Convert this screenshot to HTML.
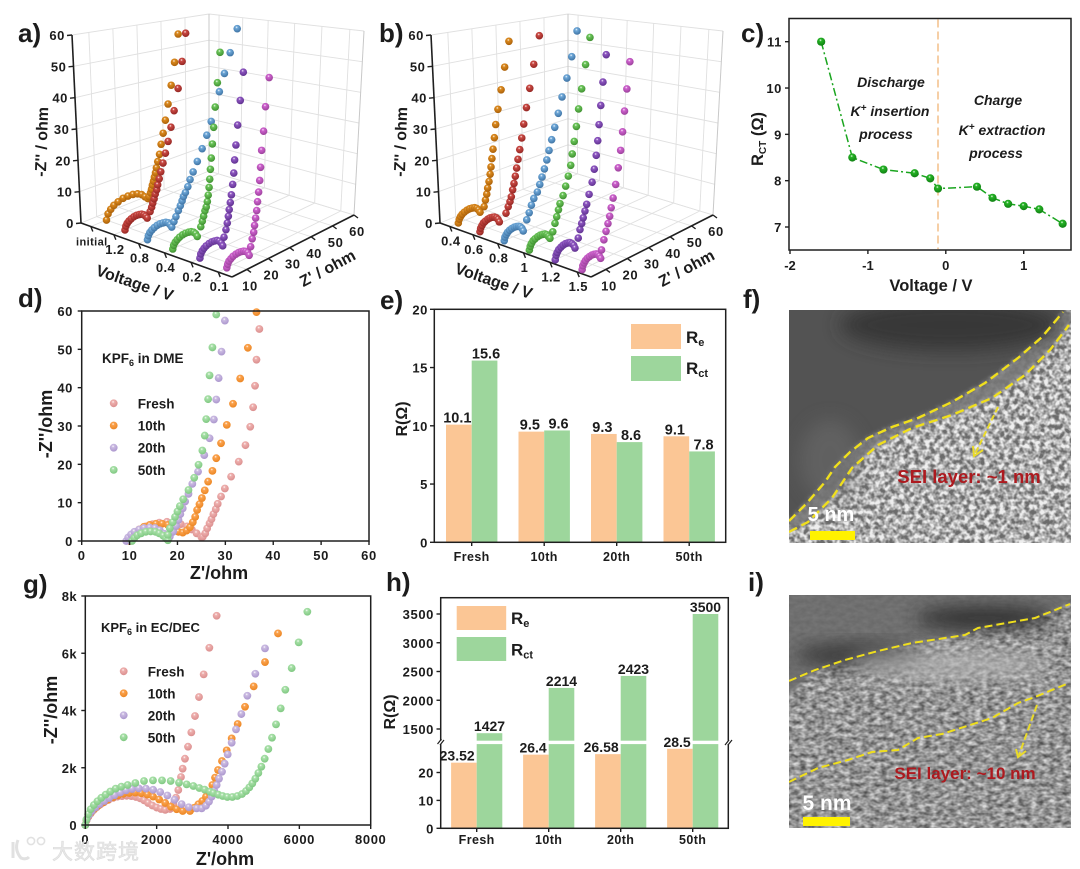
<!DOCTYPE html>
<html lang="en">
<head>
<meta charset="utf-8">
<title>EIS and SEI characterization figure</title>
<style>
html,body{margin:0;padding:0;background:#fff;}
svg{display:block;font-family:"Liberation Sans","Noto Sans CJK SC",sans-serif;}
text{fill:#1c1c1c;font-weight:bold;}
.plabel{font-size:26px;}
.title{font-size:17px;}
.note{font-size:14px;font-style:italic;text-anchor:middle;}
</style>
</head>
<body>
<svg id="chart" width="1080" height="869" viewBox="0 0 1080 869">
<defs>
  <filter id="noiseF" x="0" y="0" width="1" height="1" color-interpolation-filters="sRGB">
    <feTurbulence type="fractalNoise" baseFrequency="0.2" numOctaves="2" seed="7"/>
    <feColorMatrix type="matrix" values="2.6 0 0 0 -0.8  2.6 0 0 0 -0.8  2.6 0 0 0 -0.8  0 0 0 0 1"/>
  </filter>
  <filter id="noiseI" x="0" y="0" width="1" height="1" color-interpolation-filters="sRGB">
    <feTurbulence type="fractalNoise" baseFrequency="0.16 0.24" numOctaves="2" seed="11"/>
    <feColorMatrix type="matrix" values="1.5 0 0 0 -0.25  1.5 0 0 0 -0.25  1.5 0 0 0 -0.25  0 0 0 0 1"/>
  </filter>
  <filter id="soft" x="-20%" y="-20%" width="140%" height="140%"><feGaussianBlur stdDeviation="2.5"/></filter>
  <filter id="softer" x="-40%" y="-40%" width="180%" height="180%"><feGaussianBlur stdDeviation="9"/></filter>
  <clipPath id="clipF"><rect x="789" y="310" width="282" height="233"/></clipPath>
  <clipPath id="clipI"><rect x="789" y="595" width="282" height="233"/></clipPath>
</defs>
<rect width="1080" height="869" fill="#fff"/>

<g id="pa"></g>
<g id="pb"></g>
<g id="pc"></g>
<g id="pd"></g>
<g id="pe"></g>
<g id="pg"></g>
<g id="ph"></g>

<text class="plabel" x="18" y="42">a)</text>
<text class="plabel" x="379" y="42">b)</text>
<text class="plabel" x="741" y="42">c)</text>
<text class="plabel" x="18" y="307">d)</text>
<text class="plabel" x="380" y="309">e)</text>
<text class="plabel" x="743" y="308">f)</text>
<text class="plabel" x="23" y="593">g)</text>
<text class="plabel" x="386" y="591">h)</text>
<text class="plabel" x="748" y="591">i)</text>

<!-- 3D panel titles -->
<text class="title" style="font-size:16px" text-anchor="middle" transform="translate(47,142) rotate(-88)">-Z'' / ohm</text>
<text class="title" style="font-size:16px" text-anchor="middle" transform="translate(133,288) rotate(19)">Voltage / V</text>
<text class="title" style="font-size:16px" text-anchor="middle" transform="translate(330,273) rotate(-28)">Z' / ohm</text>
<text class="title" style="font-size:16px" text-anchor="middle" transform="translate(406,142) rotate(-88)">-Z'' / ohm</text>
<text class="title" style="font-size:16px" text-anchor="middle" transform="translate(492,286) rotate(19)">Voltage / V</text>
<text class="title" style="font-size:16px" text-anchor="middle" transform="translate(689,273) rotate(-28)">Z' / ohm</text>

<!-- panel c text -->
<text class="title" x="931" y="291" text-anchor="middle" style="font-size:16.5px">Voltage / V</text>
<text class="title" text-anchor="middle" style="font-size:16.5px" transform="translate(763,139) rotate(-90)">R<tspan dy="3" font-size="10">CT</tspan><tspan dy="-3"> (Ω)</tspan></text>
<text class="note" x="891" y="87">Discharge</text>
<text class="note" x="890" y="116">K<tspan dy="-5" font-size="10">+</tspan><tspan dy="5"> insertion</tspan></text>
<text class="note" x="886" y="139">process</text>
<text class="note" x="998" y="105">Charge</text>
<text class="note" x="1002" y="135">K<tspan dy="-5" font-size="10">+</tspan><tspan dy="5"> extraction</tspan></text>
<text class="note" x="996" y="158">process</text>

<!-- panel d text -->
<text class="title" x="219" y="579" text-anchor="middle" style="font-size:18px">Z'/ohm</text>
<text class="title" text-anchor="middle" style="font-size:18px" transform="translate(52,424) rotate(-90)">-Z''/ohm</text>
<text x="102" y="363" font-size="13.5">KPF<tspan dy="3" font-size="9">6</tspan><tspan dy="-3"> in DME</tspan></text>

<!-- panel e text -->
<text class="title" text-anchor="middle" style="font-size:16px" transform="translate(407,419) rotate(-90)">R(Ω)</text>
<rect x="631" y="324" width="50" height="25" fill="#fbc695"/>
<rect x="631" y="356" width="50" height="25" fill="#9dd69c"/>
<text x="686" y="343" font-size="17">R<tspan dy="3" font-size="11">e</tspan></text>
<text x="686" y="374" font-size="17">R<tspan dy="3" font-size="11">ct</tspan></text>

<!-- panel f TEM image -->
<g clip-path="url(#clipF)">
  <rect x="789" y="310" width="282" height="233" fill="#adadad"/>
  <rect x="789" y="310" width="282" height="233" filter="url(#noiseF)" opacity="0.8" style="mix-blend-mode:overlay"/>
  <polygon filter="url(#soft)" points="789,521 807,503 825,482 835,467 850,452 868,438 892,427 918,418 952,402 985,383 1018,358 1042,337 1063,312 1080,312 1069,325 1050,350 1025,375 992,398 952,415 912,428 878,445 852,468 832,498 808,522 789,532" fill="#777" opacity="0.9"/>
  <polygon filter="url(#soft)" points="770,300 1080,300 1063,312 1042,337 1018,358 985,383 952,402 918,418 892,427 868,438 850,452 835,467 825,482 807,503 789,521 770,540" fill="#535353"/>
  <ellipse filter="url(#softer)" cx="950" cy="325" rx="110" ry="26" fill="#353535" opacity="0.9"/>
  <ellipse filter="url(#softer)" cx="830" cy="460" rx="30" ry="40" fill="#6a6a6a" opacity="0.6"/>
  <polyline points="789,521 807,503 825,482 835,467 850,452 868,438 892,427 918,418 952,402 985,383 1018,358 1042,337 1063,312" fill="none" stroke="#f0df1c" stroke-width="2.4" stroke-dasharray="9 5"/>
  <polyline points="789,532 808,522 832,498 852,468 878,445 912,428 952,415 992,398 1025,375 1050,350 1069,325" fill="none" stroke="#f0df1c" stroke-width="2.4" stroke-dasharray="9 5"/>
  <line x1="998" y1="407" x2="975" y2="454" stroke="#eadb2a" stroke-width="2" stroke-dasharray="6 3"/>
  <polyline points="973,446 974,456 983,450" fill="none" stroke="#eadb2a" stroke-width="2"/>
  <text x="969" y="483" text-anchor="middle" font-size="18.5" style="fill:#ad1a1f">SEI layer: ~1 nm</text>
  <text x="831" y="521" text-anchor="middle" font-size="20" style="fill:#fff">5 nm</text>
  <rect x="810" y="531" width="45" height="9" fill="#fff200"/>
</g>

<!-- panel g text -->
<text class="title" x="225" y="865" text-anchor="middle" style="font-size:18px">Z'/ohm</text>
<text class="title" text-anchor="middle" style="font-size:18px" transform="translate(57,710) rotate(-90)">-Z''/ohm</text>
<text x="101" y="632" font-size="13">KPF<tspan dy="3" font-size="9">6</tspan><tspan dy="-3"> in EC/DEC</tspan></text>

<!-- panel h text -->
<text class="title" text-anchor="middle" style="font-size:16px" transform="translate(395,712) rotate(-90)">R(Ω)</text>

<!-- panel i TEM image -->
<g clip-path="url(#clipI)">
  <rect x="789" y="595" width="282" height="233" fill="#959595"/>
  <rect x="789" y="595" width="282" height="233" filter="url(#noiseI)" opacity="0.65" style="mix-blend-mode:overlay"/>
  <polygon filter="url(#soft)" points="780,590 1080,590 1070,604 1035,618 978,628 965,635 912,643 878,651 845,660 815,670 789,695 780,700" fill="#6c6c6c" opacity="0.9"/>
  <ellipse filter="url(#softer)" cx="985" cy="618" rx="70" ry="12" fill="#333"/>
  <ellipse filter="url(#softer)" cx="860" cy="655" rx="65" ry="12" fill="#3a3a3a"/>
  <ellipse filter="url(#softer)" cx="950" cy="665" rx="100" ry="16" fill="#b4b4b4" opacity="0.7"/>
  <polyline points="789,681 815,670 845,660 878,651 912,643 965,635 978,628 1035,618 1070,604" fill="none" stroke="#f0df1c" stroke-width="2" stroke-dasharray="8 4"/>
  <polyline points="789,782 818,768 848,760 872,752 898,750 918,738 942,734 992,718 1018,703 1035,697 1069,683" fill="none" stroke="#f0df1c" stroke-width="2" stroke-dasharray="8 4"/>
  <line x1="1037" y1="705" x2="1019" y2="755" stroke="#eadb2a" stroke-width="2" stroke-dasharray="7 3"/>
  <polyline points="1016,749 1018,757 1026,751" fill="none" stroke="#eadb2a" stroke-width="2"/>
  <text x="965" y="779" text-anchor="middle" font-size="17" style="fill:#ad1a1f">SEI layer: ~10 nm</text>
  <text x="827" y="810" text-anchor="middle" font-size="21" style="fill:#fff">5 nm</text>
  <rect x="803" y="817" width="47" height="9" fill="#fff200"/>
</g>

<!-- watermark -->
<g opacity="0.9">
  <path d="M13 842 L13 858 M18 840 Q14 850 21 858 Q26 860 29 857" fill="none" stroke="#dedede" stroke-width="3"/>
  <circle cx="31" cy="841" r="3.6" fill="none" stroke="#dedede" stroke-width="1.6"/>
  <circle cx="41" cy="841" r="3.6" fill="none" stroke="#dedede" stroke-width="1.6"/>
  <text x="52" y="859" font-size="21" letter-spacing="1" stroke="#d8d8d8" stroke-width="0.6" style="fill:#e6e6e6;font-weight:normal">大数跨境</text>
</g>

<script>
/* ---------- Panel a data: [Z', -Z''] ---------- */
const voltageLabelsA = ['initial','1.2','0.8','0.4','0.2','0.1'];
const aInitial = [[10,0],[10.7,1.8],[11.9,2.9],[13.3,3.8],[15.2,4.4],[17.4,4.9],[19.6,5],[21.8,4.9],[23.9,4.5],[25.7,3.7],[27.2,2.5],[28.5,1.5],[29,2],[29.7,3.1],[30.1,4.2],[30.5,5.5],[31,6.7],[31.4,8],[31.9,9.3],[32.3,10.9],[32.9,12.9],[33.7,15.2],[34.4,18.5],[35.3,22.1],[36.3,26.4],[37.5,31.8],[38.9,38.1],[40.4,45.9],[42,55.7]];
const aV12 = [[8,0],[8.4,1.1],[9,1.8],[9.8,2.3],[10.8,2.7],[12,3],[13.2,3.1],[14.4,3],[15.5,2.8],[16.5,2.3],[17.3,1.6],[18,0.8],[19.3,2.5],[20,3.7],[20.5,4.9],[21.1,6.1],[21.6,7.5],[22.3,8.7],[22.7,10.2],[23.4,12],[24.1,14.1],[25.1,16.7],[26.2,19.7],[27.4,23.3],[28.7,27.7],[30.1,32.9],[31.9,40],[33.7,48.8],[35.3,58.1]];
const aV08 = [[7,0],[7.4,1.1],[8.1,1.9],[9,2.4],[10.1,2.8],[11.4,3.1],[12.7,3.2],[14,3.1],[15.3,2.9],[16.4,2.4],[17.2,1.6],[18,0.6],[19,2],[19.9,3.3],[21,4.9],[21.9,6.2],[22.7,7.5],[23.3,8.7],[24.2,9.7],[25.3,11.3],[26.3,13.3],[27.7,15.4],[29.6,18.3],[31.8,21.9],[33.9,25.8],[35.9,29.9],[39.6,39],[41.9,44.7],[44.5,51.3],[47.7,59]];
const aV04 = [[6.8,0],[7.2,1],[7.9,1.7],[8.8,2.2],[9.9,2.6],[11.3,2.9],[12.6,3],[14,2.9],[15.2,2.7],[16.3,2.2],[17.2,1.5],[18,0.4],[19.6,2.9],[20.3,4.4],[20.9,5.8],[21.5,7.3],[22.1,8.3],[22.6,9.8],[23,11.7],[23.4,14],[23.7,16.5],[24,19.5],[24.4,22.9],[24.9,27.2],[25.5,32.3],[26.2,38.5],[27.2,46],[28.4,55.4]];
const aV02 = [[7.1,0],[7.5,1.1],[8.2,1.8],[9,2.3],[10,2.7],[11.3,3],[12.6,3.1],[13.8,3],[15,2.8],[16,2.3],[16.9,1.5],[17.6,0.4],[18.2,2.8],[19.1,4.8],[19.7,6.6],[20.2,8.5],[20.6,10.4],[21.1,12.4],[21.6,14.6],[22.2,17.6],[22.7,20.9],[23.1,24.8],[23.7,29.2],[24.5,35.1],[25.7,42.4],[27.1,50.8]];
const aV01 = [[7,0],[7.4,0.9],[8,1.6],[8.9,2],[9.9,2.4],[11.2,2.6],[12.4,2.7],[13.7,2.6],[14.8,2.4],[15.8,2],[16.7,1.4],[17.4,0.4],[18.1,2.7],[18.8,4.8],[19.5,6.5],[19.9,8.4],[20.4,10.4],[20.9,12.5],[21.3,15],[21.8,17.7],[22.3,21],[22.7,24.8],[23.2,29.7],[24.1,35.2],[25,42.3],[26.7,50.7]];

/* ---------- Panel b data ---------- */
const voltageLabelsB = ['0.4','0.6','0.8','1','1.2','1.5'];
const bV04 = [[6.8,0],[7.2,1.1],[7.8,1.8],[8.5,2.3],[9.5,2.7],[10.7,3],[11.8,3.1],[13,3],[14.1,2.8],[15,2.3],[15.8,1.6],[16.5,0.6],[18.3,1.9],[18.9,3.9],[19.5,5.7],[19.9,7.6],[20.5,9.6],[21,11.9],[21.4,14.2],[21.8,16.9],[22.3,19.9],[22.9,23.6],[23.5,27.9],[24.5,32.8],[25.9,39.1],[27.5,46.5],[29.4,55]];
const bV06 = [[6.2,0],[6.5,1],[7.1,1.7],[7.8,2.3],[8.6,2.6],[9.7,2.9],[10.7,3],[11.8,2.9],[12.7,2.7],[13.6,2.2],[14.3,1.5],[14.9,0.5],[17.9,2.4],[18.9,4.2],[19.7,5.6],[20.3,7],[20.9,9.1],[21.5,11],[22.1,13.2],[22.7,15.7],[23.3,18.4],[24.1,21.4],[25,25],[25.9,29.4],[27.1,34.6],[28.6,40.7],[30.4,48.4],[32.9,57.6]];
const bV08 = [[6,0],[6.3,1],[6.9,1.6],[7.5,2.1],[8.4,2.5],[9.4,2.7],[10.5,2.8],[11.5,2.7],[12.5,2.5],[13.3,2.1],[14,1.4],[14.6,0.4],[16.2,3.4],[17.3,5.3],[18.3,7.4],[19.4,9.2],[21,10.8],[22.1,12.9],[23.1,15],[24.2,17.3],[25.3,19.9],[26.3,22.7],[27.5,25.9],[28.9,29.6],[30.5,33.8],[32.2,38.8],[34.4,44.6],[36.6,51.3],[39,59.5]];
const bV10 = [[5.7,0],[6.1,1],[6.6,1.7],[7.4,2.3],[8.3,2.6],[9.5,2.9],[10.6,3],[11.7,2.9],[12.8,2.7],[13.7,2.2],[14.4,1.5],[15.1,0.7],[16.4,2.3],[17.4,4.6],[18.2,6.4],[19,8.3],[19.7,10],[21.1,12.1],[22.3,14.7],[23.5,17.5],[24.6,20.6],[25.3,24],[26.2,27.7],[27.2,32.2],[28.2,37.5],[29.6,43.6],[31.4,51],[33.4,59.4]];
const bV12 = [[5.4,0],[5.8,1.2],[6.3,1.9],[7,2.5],[8,2.9],[9,3.2],[10.1,3.3],[11.2,3.2],[12.2,3],[13.1,2.4],[13.9,1.7],[14.5,0.7],[16,3.2],[16.8,5.5],[17.6,7.1],[18.3,8.6],[19.1,10.4],[19.9,12.2],[21,14.9],[22.4,18.2],[23.4,21.9],[24.3,25.9],[25,30.2],[25.6,35],[26.4,40.7],[27.4,47.7],[28.9,55.9]];
const bV15 = [[5.3,0],[5.6,1],[6.2,1.6],[6.8,2.1],[7.7,2.5],[8.7,2.7],[9.8,2.8],[10.8,2.7],[11.8,2.5],[12.6,2.1],[13.3,1.4],[13.9,0.6],[14.3,2.9],[15.4,5.5],[16.4,7.7],[17.3,9.7],[18.1,11.6],[18.8,13.9],[19.7,16.5],[20.9,20.2],[22.1,24.8],[23.2,29.7],[24.1,35],[25,41],[26.1,47.4],[27.5,55.3]];

const tickValues3dImag = [0,10,20,30,40,50,60];
const tickValues3dReal = [10,20,30,40,50,60];

/* ---------- Panel c data ---------- */
const cVoltage = [-1.6,-1.2,-0.8,-0.4,-0.2,-0.1,0.4,0.6,0.8,1,1.2,1.5];
const cResistance = [11,8.5,8.24,8.16,8.05,7.83,7.87,7.63,7.5,7.45,7.38,7.07];
const cDividerVoltage = [-0.1];
const cXTicks = [-2,-1,0,1];
const cYTicks = [7,8,9,10,11];

/* ---------- Panel d data ---------- */
const dTicks = [0,10,20,30,40,50,60];
const dCycles = ['Fresh','10th','20th','50th'];
const dFresh = [[10,0],[10.5,1],[11.2,2],[12.2,3],[13.4,3.8],[14.8,4.4],[16.2,4.8],[17.8,5],[19.3,4.9],[20.7,4.4],[22,3.8],[23,3],[24,2],[25,1],[25.3,1.1],[25.8,2],[26.2,3.3],[26.7,4.6],[27.1,5.7],[27.5,7],[28,8.3],[28.4,9.7],[29.1,11.6],[29.9,13.7],[31.2,16.8],[32.8,20.7],[34.2,25],[35.2,29.8],[35.8,34.9],[36.2,40.5],[36.5,47.3],[37.1,55.3]];
const d10th = [[10,0],[10.5,1],[11.2,2],[12,3],[13,3.7],[14.2,4.2],[15.5,4.5],[16.8,4.5],[18,4.2],[19,3.5],[20.2,2.4],[21.1,2.2],[21.9,2.7],[22.6,3.6],[23.2,4.9],[23.7,6.3],[24.1,8.1],[24.6,9.6],[25.1,11.2],[25.7,13.2],[26.4,15.5],[27.3,18.3],[28.1,21.6],[29.1,25.5],[30.3,30.3],[31.6,35.8],[33.1,42.4],[34.7,50.4],[36.5,59.7]];
const d20th = [[9.3,0],[9.7,0.9],[10.3,1.7],[11,2.4],[12,3],[13,3.4],[14.2,3.5],[15.3,3.4],[16.3,2.8],[17.2,1.9],[18,1],[18.4,1.1],[19.1,2.4],[19.7,3.9],[20.2,5.5],[20.6,7],[21.1,8.5],[21.6,10.3],[22.3,12.3],[23.1,14.9],[24.3,18.1],[25.6,22.4],[26.7,26.8],[27.6,31.7],[28.1,36.9],[28.6,42.5],[29.2,49.4],[29.9,57.5]];
const d50th = [[10.5,0],[11,0.8],[11.6,1.5],[12.4,2],[13.4,2.4],[14.4,2.5],[15.4,2.4],[16.2,2],[17,1.4],[17.6,0.7],[18,0.2],[18,1.6],[18.4,3.3],[19,4.9],[19.5,6.3],[20,7.7],[20.5,9.1],[21.2,10.9],[22.3,13.3],[23.5,16.5],[24.4,19.9],[25.2,23.6],[25.7,27.5],[26,31.8],[26.4,37],[26.7,43.2],[27.3,50.5],[28.1,59.1]];

/* ---------- Panel e data ---------- */
const barCategories = ['Fresh','10th','20th','50th'];
const eRe = [10.1,9.5,9.3,9.1];
const eRct = [15.6,9.6,8.6,7.8];
const eTicks = [0,5,10,15,20];

/* ---------- Panel g data ---------- */
const gXTicks = [0,2000,4000,6000,8000];
const gYTicks = [0,2000,4000,6000,8000];
const gYTickLabels = ['0','2k','4k','6k','8k'];
const gFresh = [[0,0],[30,150],[80,280],[150,400],[230,520],[320,620],[420,720],[530,800],[650,880],[780,950],[900,990],[1030,1010],[1160,1020],[1290,1010],[1420,980],[1540,930],[1650,860],[1760,770],[1880,680],[2000,610],[2120,560],[2240,530],[2374,559],[2467,722],[2542,954],[2607,1222],[2682,1676],[2729,1967],[2794,2316],[2879,2735],[2972,3236],[3075,3806],[3187,4470],[3318,5261],[3477,6192],[3682,7310]];
const g10th = [[0,0],[35,170],[90,310],[170,450],[260,570],[370,680],[490,780],[620,880],[770,970],[920,1040],[1070,1090],[1230,1120],[1400,1130],[1570,1110],[1740,1060],[1900,990],[2070,890],[2240,770],[2400,640],[2560,550],[2730,490],[2935,489],[3050,600],[3168,722],[3280,838],[3383,989],[3477,1164],[3561,1397],[3636,1653],[3720,1920],[3832,2235],[3963,2607],[4103,3026],[4271,3527],[4477,4132],[4720,4842],[5037,5692],[5402,6693]];
const g20th = [[0,0],[40,190],[100,340],[180,480],[280,610],[400,730],[530,840],[670,940],[820,1040],[980,1130],[1140,1210],[1310,1260],[1500,1280],[1700,1270],[1900,1230],[2100,1150],[2300,1030],[2500,880],[2700,730],[2900,620],[3122,582],[3262,582],[3383,675],[3467,815],[3542,989],[3617,1187],[3682,1397],[3748,1618],[3832,1862],[3907,2142],[3991,2468],[4103,2875],[4224,3341],[4374,3876],[4542,4516],[4766,5285],[5037,6169]];
const g50th = [[0,0],[30,190],[80,380],[150,550],[240,700],[340,830],[450,950],[570,1060],[700,1170],[850,1270],[1010,1340],[1187,1397],[1402,1467],[1645,1536],[1897,1560],[2150,1560],[2393,1536],[2626,1478],[2841,1420],[3028,1362],[3196,1292],[3346,1234],[3495,1164],[3589,1117],[3729,1059],[3850,1013],[3981,978],[4122,978],[4262,1013],[4393,1083],[4505,1187],[4598,1315],[4682,1455],[4766,1618],[4851,1816],[4935,2037],[5028,2316],[5131,2654],[5234,3050],[5346,3515],[5477,4074],[5607,4726],[5785,5482],[5981,6379],[6224,7450]];

/* ---------- Panel h data ---------- */
const hRe = [23.52,26.4,26.58,28.5];
const hRct = [1427,2214,2423,3500];
const hLowerTicks = [0,10,20];
const hUpperTicks = [1500,2000,2500,3000,3500];

/* ---------- helpers ---------- */
const root = document.getElementById('chart');
const NS = root.namespaceURI;
const defs = root.querySelector('defs');
const DARK = '#1f1f1f';

function mk(parent, tag, attrs, txt) {
  const el = document.createElementNS(NS, tag);
  for (const k in attrs) el.setAttribute(k, attrs[k]);
  if (txt !== undefined) el.textContent = txt;
  parent.appendChild(el);
  return el;
}
function linear(d0, d1, r0, r1) {
  return v => r0 + (v - d0) * (r1 - r0) / (d1 - d0);
}
function seg(p, x1, y1, x2, y2, stroke, w, name) {
  const el = mk(p, 'line', {x1, y1, x2, y2, stroke, 'stroke-width': w});
  
  
  return el;
}
function label(p, x, y, str, size, anchor, name, extra) {
  const el = mk(p, 'text', Object.assign({x, y, 'font-size': size, 'text-anchor': anchor}, extra || {}), str);
  
  
  return el;
}
function box(p, x, y, w, h, fill, name) {
  const el = mk(p, 'rect', {x, y, width: w, height: h, fill});
  
  
  return el;
}
let gradCount = 0;
function sphereGradient(color, dark) {
  const id = 'sph' + (gradCount++);
  const g = mk(defs, 'radialGradient', {id, cx: '0.42', cy: '0.32', r: '0.72'});
  mk(g, 'stop', {offset: '0', 'stop-color': '#ffffff', 'stop-opacity': '0.95'});
  mk(g, 'stop', {offset: '0.22', 'stop-color': color});
  mk(g, 'stop', {offset: '1', 'stop-color': dark});
  return 'url(#' + id + ')';
}
function ball(p, x, y, r, fill, name) {
  const el = mk(p, 'circle', {cx: x, cy: y, r, fill});
  
  
  return el;
}

/* ---------- 3D box panels ---------- */
function draw3D(group, dx, labels, series, names) {
  const A = [81,223], B = [232,277], C = [354,215], D = [209,171];
  const At = [72,35], Bt = [236,61], Ct = [364,31], Dt = [209,14];
  const bil = (P,Q,R,S,t,u) => {
    const lx = P[0]+(Q[0]-P[0])*t, ly = P[1]+(Q[1]-P[1])*t;
    const hx = S[0]+(R[0]-S[0])*t, hy = S[1]+(R[1]-S[1])*t;
    return [lx+(hx-lx)*u, ly+(hy-ly)*u];
  };
  const vFrac = i => Math.pow((i+0.5)/labels.length, 1.1);
  const uOf = z => (z-3)/57;
  const wall = (t,u,zz) => {
    const b = bil(A,B,C,D,t,u), top = bil(At,Bt,Ct,Dt,t,u);
    return [dx + b[0]+(top[0]-b[0])*zz/60, b[1]+(top[1]-b[1])*zz/60];
  };
  const point = (t,u,zz) => {
    const b = bil(A,B,C,D,t,u), top = bil(At,Bt,Ct,Dt,t,u);
    return [dx + b[0], b[1]+(top[1]-b[1])*zz/60];
  };
  const GRID = '#e0e0e0';
  const L = (a,b,c,w,n) => seg(group, a[0], a[1], b[0], b[1], c, w, n);

  tickValues3dImag.forEach(z => {
    L(wall(0,0,z), wall(0,1,z), GRID, 0.9, 'left-wall-grid-line');
    L(wall(0,1,z), wall(1,1,z), GRID, 0.9, 'right-wall-grid-line');
  });
  tickValues3dReal.forEach(z => {
    L(wall(0,uOf(z),0), wall(0,uOf(z),60), GRID, 0.9, 'left-wall-grid-line');
    L(wall(0,uOf(z),0), wall(1,uOf(z),0), GRID, 0.9, 'floor-grid-line');
  });
  labels.forEach((_,i) => {
    L(wall(vFrac(i),1,0), wall(vFrac(i),1,60), GRID, 0.9, 'right-wall-grid-line');
    L(wall(vFrac(i),0,0), wall(vFrac(i),1,0), GRID, 0.9, 'floor-grid-line');
  });
  L(wall(0,1,0), wall(0,1,60), '#c8c8c8', 1, 'back-edge');
  L(wall(1,1,0), wall(1,1,60), '#c8c8c8', 1, 'right-edge');
  L(wall(0,0,0), wall(0,0,60), DARK, 1.6, 'z-imag-axis');
  L(wall(0,0,0), wall(1,0,0), DARK, 1.6, 'voltage-axis');
  L(wall(1,0,0), wall(1,1,0), DARK, 1.6, 'z-real-axis');

  tickValues3dImag.forEach(z => {
    const q = wall(0,0,z);
    seg(group, q[0]-5, q[1]+0.5, q[0], q[1], DARK, 1.4, 'z-imag-tick');
    label(group, q[0]-7, q[1]+5, String(z), 13, 'end', 'z-imag-tick-label', {'letter-spacing': '0.6'});
  });
  labels.forEach((s,i) => {
    const q = wall(vFrac(i),0,0);
    seg(group, q[0], q[1], q[0]+2, q[1]+5, DARK, 1.4, 'voltage-tick');
    label(group, q[0]+1, q[1]+19, s, i === 0 && s === 'initial' ? 11 : 13, 'middle', 'voltage-tick-label', {'letter-spacing': '0.4'});
  });
  tickValues3dReal.forEach(z => {
    const q = wall(1,uOf(z),0);
    seg(group, q[0], q[1], q[0]+4, q[1]+3, DARK, 1.4, 'z-real-tick');
    label(group, q[0]+3, q[1]+21, String(z), 13, 'middle', 'z-real-tick-label', {'letter-spacing': '0.6'});
  });

  const colors = [['#dc8a1e','#a65d08'],['#cb4a44','#8f2320'],['#6ea8d9','#3b6f9f'],['#6cc65a','#3c8c2e'],['#8f57c2','#5c2f8c'],['#cf62cf','#973f97']];
  series.forEach((pts,i) => {
    const fill = sphereGradient(colors[i][0], colors[i][1]);
    pts.forEach(p => {
      const q = point(vFrac(i), uOf(p[0]), p[1]);
      ball(group, q[0], q[1], 3.8, fill, names[i]);
    });
  });
}
draw3D(document.getElementById('pa'), 0, voltageLabelsA, [aInitial,aV12,aV08,aV04,aV02,aV01],
  ['series-initial-point','series-1.2v-point','series-0.8v-point','series-0.4v-point','series-0.2v-point','series-0.1v-point']);
draw3D(document.getElementById('pb'), 359, voltageLabelsB, [bV04,bV06,bV08,bV10,bV12,bV15],
  ['series-0.4v-point','series-0.6v-point','series-0.8v-point','series-1v-point','series-1.2v-point','series-1.5v-point']);

/* frame helper */
function frame(p, x0, y0, x1, y1, name) {
  const el = mk(p, 'rect', {x: x0, y: y0, width: x1-x0, height: y1-y0, fill: 'none', stroke: DARK, 'stroke-width': 1.5});
  
  
  return el;
}

/* ---------- Panel c ---------- */
(function () {
  const g = document.getElementById('pc');
  const x = linear(-2, 1, 790, 1023.7);
  const y = linear(7, 11, 227, 41.7);
  frame(g, 789, 18.5, 1071, 250, 'c-plot-frame');
  cDividerVoltage.forEach(v => {
    const el = seg(g, x(v), 19.5, x(v), 249, '#f6cfa6', 2, 'discharge-charge-divider');
    el.setAttribute('stroke-dasharray', '8 4');
  });
  const pl = mk(g, 'polyline', {points: cVoltage.map((v,i) => x(v)+','+y(cResistance[i])).join(' '), fill: 'none', stroke: '#1aa51f', 'stroke-width': 1.5, 'stroke-dasharray': '8 3 2 3'});
  
  
  const fill = sphereGradient('#25b425', '#0f7c12');
  cVoltage.forEach((v,i) => ball(g, x(v), y(cResistance[i]), 4.1, fill, 'rct-point'));
  cXTicks.forEach(v => {
    seg(g, x(v), 250, x(v), 254, DARK, 1.4, 'c-x-tick');
    label(g, x(v), 270, String(v), 13, 'middle', 'c-x-tick-label');
  });
  cYTicks.forEach(v => {
    seg(g, 785, y(v), 789, y(v), DARK, 1.4, 'c-y-tick');
    label(g, 782, y(v)+5, String(v), 13, 'end', 'c-y-tick-label', {'letter-spacing': '0.6'});
  });
})();

/* ---------- scatter panels (d, g) ---------- */
const paleColors = [['#eeb0ae','#d98c8c'],['#fba24d','#ea8420'],['#cbbbe2','#a994cc'],['#a8e0a8','#7cc67e']];
function drawScatter(g, x, y, series, legendX, legendTextX, legendY, rowH, names) {
  series.forEach((pts,i) => {
    const fill = sphereGradient(paleColors[i][0], paleColors[i][1]);
    pts.forEach(p => ball(g, x(p[0]), y(p[1]), 3.9, fill, names[i]));
    ball(g, legendX, legendY + i*rowH, 3.9, fill, 'legend-marker');
    label(g, legendTextX, legendY + i*rowH + 5, dCycles[i], 13.5, 'start', 'legend-label');
  });
}
(function () {
  const g = document.getElementById('pd');
  const x = linear(0, 60, 81.7, 369);
  const y = linear(0, 60, 541, 311);
  drawScatter(g, x, y, [dFresh,d10th,d20th,d50th], 113.7, 137.7, 403.3, 22.2,
    ['d-fresh-point','d-10th-point','d-20th-point','d-50th-point']);
  frame(g, 81.7, 311, 369, 541, 'd-plot-frame');
  dTicks.forEach(v => {
    seg(g, x(v), 541, x(v), 545, DARK, 1.4, 'd-x-tick');
    label(g, x(v), 560, String(v), 13, 'middle', 'd-x-tick-label', {'letter-spacing': '0.6'});
    seg(g, 77.7, y(v), 81.7, y(v), DARK, 1.4, 'd-y-tick');
    label(g, 73, y(v)+5, String(v), 13, 'end', 'd-y-tick-label', {'letter-spacing': '0.6'});
  });
})();
(function () {
  const g = document.getElementById('pg');
  const x = linear(0, 8000, 85.3, 370.7);
  const y = linear(0, 8000, 825, 596);
  drawScatter(g, x, y, [gFresh,g10th,g20th,g50th], 123.7, 147.7, 671.3, 22,
    ['g-fresh-point','g-10th-point','g-20th-point','g-50th-point']);
  frame(g, 85.3, 596, 370.7, 825, 'g-plot-frame');
  gXTicks.forEach(v => {
    seg(g, x(v), 825, x(v), 829, DARK, 1.4, 'g-x-tick');
    label(g, x(v), 844, String(v), 13, 'middle', 'g-x-tick-label', {'letter-spacing': '0.6'});
  });
  gYTicks.forEach((v,i) => {
    seg(g, 81.3, y(v), 85.3, y(v), DARK, 1.4, 'g-y-tick');
    label(g, 77, y(v)+5, gYTickLabels[i], 13, 'end', 'g-y-tick-label', {'letter-spacing': '0.4'});
  });
})();

/* ---------- Panel e ---------- */
(function () {
  const g = document.getElementById('pe');
  const y = linear(0, 20, 542.3, 309.3);
  const cx = i => 471.7 + i*72.5;
  const W = 25.7;
  barCategories.forEach((c,i) => {
    box(g, cx(i)-W, y(eRe[i]), W, y(0)-y(eRe[i]), '#fbc695', 'bar-re-' + c);
    box(g, cx(i), y(eRct[i]), W, y(0)-y(eRct[i]), '#9dd69c', 'bar-rct-' + c);
    label(g, cx(i)-W/2-1.5, y(eRe[i])-2, String(eRe[i]), 14.5, 'middle', 'bar-re-value');
    label(g, cx(i)+W/2+1.5, y(eRct[i])-2, String(eRct[i]), 14.5, 'middle', 'bar-rct-value');
    seg(g, cx(i), 542.3, cx(i), 546, DARK, 1.4, 'e-x-tick');
    label(g, cx(i), 561, c, 12.5, 'middle', 'e-x-tick-label', {'letter-spacing': '0.4'});
  });
  frame(g, 434.3, 309.3, 725.7, 542.3, 'e-plot-frame');
  eTicks.forEach(v => {
    seg(g, 430, y(v), 434.3, y(v), DARK, 1.4, 'e-y-tick');
    label(g, 428, y(v)+5, String(v), 13, 'end', 'e-y-tick-label', {'letter-spacing': '0.6'});
  });
})();

/* ---------- Panel h ---------- */
(function () {
  const g = document.getElementById('ph');
  const lower = linear(0, 30, 828.3, 744.6);
  const upper = linear(1500, 3500, 729, 614);
  const y = v => v <= 30 ? lower(v) : upper(v);
  const cx = i => 476.7 + i*72;
  const W = 25.6;
  barCategories.forEach((c,i) => {
    box(g, cx(i)-W, y(hRe[i]), W, y(0)-y(hRe[i]), '#fbc695', 'bar-re-' + c);
    box(g, cx(i), y(hRct[i]), W, y(0)-y(hRct[i]), '#9dd69c', 'bar-rct-' + c);
  });
  frame(g, 440.7, 597.7, 728.3, 828.3, 'h-plot-frame');
  box(g, 438, 740.7, 293, 3.4, '#ffffff', 'axis-break-band');
  barCategories.forEach((c,i) => {
    label(g, cx(i)-2, y(hRe[i])-2, String(hRe[i]), 14, 'end', 'bar-re-value');
    label(g, cx(i)+W/2, y(hRct[i])-2, String(hRct[i]), 14, 'middle', 'bar-rct-value');
    seg(g, cx(i), 828.3, cx(i), 832, DARK, 1.4, 'h-x-tick');
    label(g, cx(i), 844, c, 12.5, 'middle', 'h-x-tick-label', {'letter-spacing': '0.4'});
  });
  seg(g, 437.5, 744, 441.5, 739, DARK, 1.2, 'axis-break-mark');
  seg(g, 440, 745, 444, 740, DARK, 1.2, 'axis-break-mark');
  seg(g, 725, 745, 729, 740, DARK, 1.2, 'axis-break-mark');
  seg(g, 728, 745, 732, 740, DARK, 1.2, 'axis-break-mark');
  hLowerTicks.forEach(v => {
    seg(g, 436.5, y(v), 440.7, y(v), DARK, 1.4, 'h-y-tick');
    label(g, 434, y(v)+5, String(v), 13, 'end', 'h-y-tick-label', {'letter-spacing': '0.6'});
  });
  hUpperTicks.forEach(v => {
    seg(g, 436.5, y(v), 440.7, y(v), DARK, 1.4, 'h-y-tick');
    label(g, 434, y(v)+5, String(v), 13, 'end', 'h-y-tick-label', {'letter-spacing': '0.6'});
  });
  box(g, 456.7, 606, 49.5, 24, '#fbc695', 'h-legend-swatch-re');
  box(g, 456.7, 637, 49.5, 24, '#9dd69c', 'h-legend-swatch-rct');
  const re = label(g, 511, 624, 'R', 17, 'start', 'h-legend-label-re');
  mk(re, 'tspan', {dy: 3, 'font-size': 11}, 'e');
  const rct = label(g, 511, 655.7, 'R', 17, 'start', 'h-legend-label-rct');
  mk(rct, 'tspan', {dy: 3, 'font-size': 11}, 'ct');
})();
</script>
</svg>
</body>
</html>
